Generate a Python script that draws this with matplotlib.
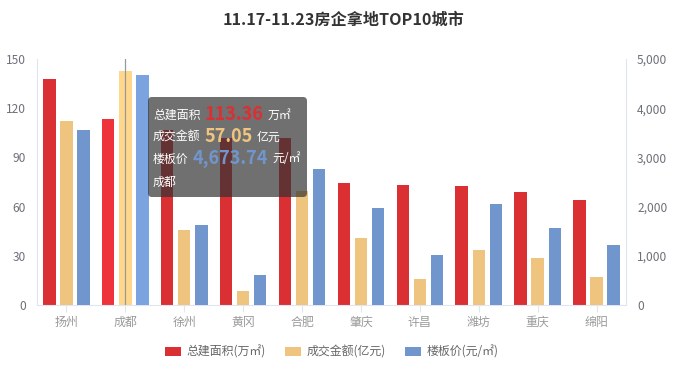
import numpy as np
import matplotlib
matplotlib.use('Agg')
import matplotlib.pyplot as plt
from matplotlib.patches import Patch, FancyBboxPatch
import matplotlib.transforms as mtransforms

plt.rcParams['font.family'] = ['Noto Sans CJK SC', 'DejaVu Sans']

# data
cities = ['扬州', '成都', '徐州', '黄冈', '合肥', '肇庆', '许昌', '潍坊', '重庆', '绵阳']
area = [137.6, 113.36, 107.0, 102.1, 102.0, 74.4, 73.0, 72.3, 68.9, 63.8]      # 万㎡
amount = [44.8, 57.05, 18.4, 3.3, 27.9, 16.4, 6.4, 13.5, 11.4, 6.8]            # 亿元
price = [3555, 4673.74, 1636, 616, 2765, 1974, 1013, 2061, 1569, 1216]         # 元/㎡
left_ticks = [0, 30, 60, 90, 120, 150]
right_ticks = [0, 1000, 2000, 3000, 4000, 5000]
series_names = ['总建面积(万㎡)', '成交金额(亿元)', '楼板价(元/㎡)']
title = '11.17-11.23房企拿地TOP10城市'
hl = 1  # hovered city

colors = ['#DA3034', '#EFC47F', '#7195CD']
hl_colors = ['#EE343A', '#FFD78C', '#7BA3E0']
axis_col = '#E0E6F1'

W, H = 686, 370
fig = plt.figure(figsize=(W / 100, H / 100), dpi=100)
ax = fig.add_axes([37 / W, (H - 305) / H, (626 - 37) / W, (305 - 59) / H])
ax2 = ax.twinx()
ax3 = ax.twinx()

x = np.arange(len(cities))
bw = 0.21
step = 0.29
for axis, vals, k, top in [(ax, area, 0, 150), (ax3, amount, 1, 60), (ax2, price, 2, 5000)]:
    cols = [hl_colors[k] if i == hl else colors[k] for i in range(len(cities))]
    axis.bar(x + (k - 1) * step, vals, width=bw, color=cols, zorder=2)
    axis.set_ylim(0, top)

ax.set_xlim(-0.5, len(cities) - 0.5)
ax.set_yticks(left_ticks)
ax.set_yticklabels([str(t) for t in left_ticks])
ax2.set_yticks(right_ticks)
ax2.set_yticklabels([f'{t:,}' for t in right_ticks])
ax3.set_yticks([])
ax3.axis('off')

ax.set_xticks(x)
ax.set_xticklabels(cities)
ax.tick_params(axis='x', length=5, color=axis_col, labelcolor='#9A9A9A', labelsize=8.6, pad=3)
ax.tick_params(axis='y', length=0, labelcolor='#6E7079', labelsize=8.6, pad=8)
ax2.tick_params(axis='y', length=0, labelcolor='#6E7079', labelsize=8.6, pad=8)
for a in (ax, ax2):
    a.spines['top'].set_visible(False)
    a.spines['left'].set_color(axis_col)
    a.spines['right'].set_color(axis_col)
    a.spines['bottom'].set_color(axis_col)
ax.spines['right'].set_visible(False)
ax2.spines['left'].set_visible(False)
ax2.spines['bottom'].set_visible(False)

# hover line, on the top-most axes so it crosses the bars
ax3.axvline(hl, color='#999999', lw=0.9, zorder=5)

fig.text(0.5, (H - 20) / H, title, ha='center', va='center', fontsize=11.6,
         fontweight='bold', color='#333333')

# tooltip
px = mtransforms.IdentityTransform()
box = FancyBboxPatch((148, H - 197), 159, 100, boxstyle='round,pad=0,rounding_size=4',
                     transform=px, facecolor=(0.2, 0.2, 0.2, 0.7), edgecolor='none', zorder=10)
fig.patches.append(box)
renderer = fig.canvas.get_renderer()
lines = [
    [('总建面积', 'white', 8.6, 'normal'), (f'{area[hl]:.2f}', '#DA3034', 13, 'bold'), ('万㎡', 'white', 8.6, 'normal')],
    [('成交金额', 'white', 8.6, 'normal'), (f'{amount[hl]:.2f}', '#EFC47F', 13, 'bold'), ('亿元', 'white', 8.6, 'normal')],
    [('楼板价', 'white', 8.6, 'normal'), (f'{price[hl]:,.2f}', '#7195CD', 13, 'bold'), ('元/㎡', 'white', 8.6, 'normal')],
    [(cities[hl], 'white', 8.6, 'normal')],
]
ys = [115, 137, 159, 182]
for parts, yy in zip(lines, ys):
    xx = 153
    for txt, c, fs, fw in parts:
        t = fig.text(xx, H - yy, txt, transform=px, color=c, fontsize=fs, fontweight=fw,
                     va='center', ha='left', zorder=11)
        bb = t.get_window_extent(renderer)
        xx = bb.x1 + 4

handles = [Patch(facecolor=c, edgecolor='none') for c in colors]
fig.legend(handles, series_names, loc='center', bbox_to_anchor=(332 / W, (H - 352) / H),
           ncol=3, frameon=False, fontsize=8.6, labelcolor='#666666',
           handlelength=1.3, handleheight=0.75, handletextpad=0.5, columnspacing=1.6)

fig.savefig('out.png', dpi=100)
